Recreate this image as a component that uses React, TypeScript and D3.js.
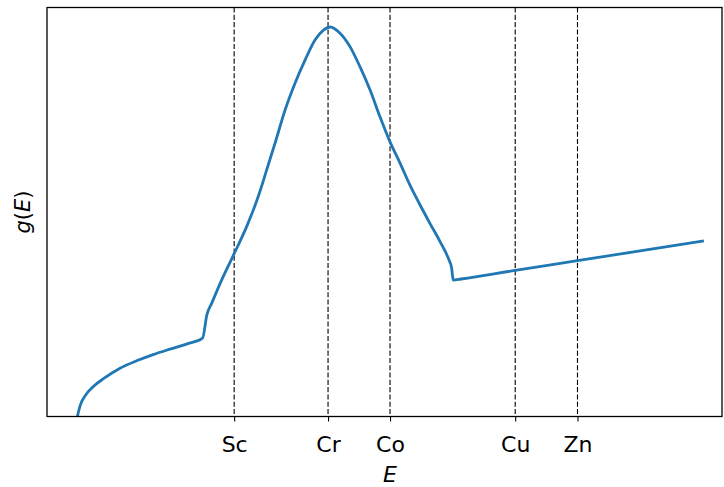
import { useEffect, useRef } from 'react';
import * as d3 from 'd3';

// energy axis positions (arbitrary units)
const energies = [
  0.99, 1.08, 1.24, 1.51, 1.84, 2.38, 2.92, 3.46, 4.01, 4.55,
  5.07, 5.21, 5.37, 5.69, 6.10, 6.51, 6.89, 7.16, 7.43, 7.76,
  8.08, 8.41, 8.74, 9.01, 9.23, 9.55, 9.88, 10.20, 10.53, 10.85,
  11.18, 11.51, 11.83, 12.16, 12.48, 12.81, 13.08, 13.19, 13.24, 13.5,
  15.26, 17.29, 21.41,
];
const density = [
  0, 2.8, 5.3, 7.7, 9.7, 12.4, 14.3, 15.9, 17.3, 18.6,
  20.1, 26.1, 29.1, 35.0, 41.8, 48.8, 56.6, 63.3, 70.1, 78.7,
  85.5, 91.5, 96.7, 99.2, 100, 98.4, 94.9, 89.8, 83.8, 77.0,
  70.5, 65.0, 59.4, 54.3, 49.6, 44.9, 40.6, 38.0, 35.0, 35.3,
  37.5, 40.0, 45.1,
];

const elements = ['Sc', 'Cr', 'Co', 'Cu', 'Zn'];
const elementEnergies = [6.10, 9.16, 11.18, 15.26, 17.29];

const width = 724;
const height = 487;
const margin = { top: 7.5, right: 2, bottom: 70.5, left: 47 };

export default function App() {
  const svgRef = useRef<SVGSVGElement>(null);

  useEffect(() => {
    if (!svgRef.current) return;
    const svg = d3.select(svgRef.current);
    svg.selectAll('*').remove();

    const innerWidth = width - margin.left - margin.right;
    const innerHeight = height - margin.top - margin.bottom;
    const font = 'DejaVu Sans';

    const x = d3.scaleLinear().domain([0, 22]).range([0, innerWidth]);
    const y = d3.scaleLinear().domain([0, 105]).range([innerHeight, 0]);

    const g = svg.append('g')
      .attr('transform', `translate(${margin.left},${margin.top})`);

    // dashed markers at each element
    g.selectAll('line.marker')
      .data(elementEnergies)
      .join('line')
      .attr('class', 'marker')
      .attr('x1', d => x(d))
      .attr('x2', d => x(d))
      .attr('y1', 0)
      .attr('y2', innerHeight)
      .attr('stroke', '#000')
      .attr('stroke-width', 1.1)
      .attr('stroke-dasharray', '5.1,2.2');

    const pts = energies.map((e, i) => [e, density[i]] as [number, number]);
    const line = d3.line<[number, number]>()
      .x(d => x(d[0]))
      .y(d => y(d[1]))
      .curve(d3.curveMonotoneX);

    g.append('path')
      .datum(pts)
      .attr('d', line)
      .attr('fill', 'none')
      .attr('stroke', '#1f77b4')
      .attr('stroke-width', 2.8)
      .attr('stroke-linejoin', 'round')
      .attr('stroke-linecap', 'butt');

    // frame
    g.append('rect')
      .attr('width', innerWidth)
      .attr('height', innerHeight)
      .attr('fill', 'none')
      .attr('stroke', '#000')
      .attr('stroke-width', 1.3);

    const xAxis = d3.axisBottom(x)
      .tickValues(elementEnergies)
      .tickFormat((_d, i) => elements[i])
      .tickSize(5)
      .tickPadding(15);

    const ax = g.append('g')
      .attr('transform', `translate(0,${innerHeight})`)
      .call(xAxis);
    ax.select('.domain').remove();
    ax.selectAll('line').attr('stroke', '#000').attr('stroke-width', 1.1);
    ax.selectAll('text')
      .attr('fill', '#000')
      .attr('font-family', font)
      .attr('font-size', '22px');

    svg.append('text')
      .attr('x', margin.left + x(11.18))
      .attr('y', 482)
      .attr('text-anchor', 'middle')
      .attr('font-family', font)
      .attr('font-size', '22px')
      .attr('font-style', 'italic')
      .text('E');

    const yl = svg.append('text')
      .attr('transform', `translate(30,${margin.top + innerHeight / 2}) rotate(-90)`)
      .attr('text-anchor', 'middle')
      .attr('font-family', font)
      .attr('font-size', '21px');
    yl.append('tspan').attr('font-style', 'italic').text('g');
    yl.append('tspan').text('(');
    yl.append('tspan').attr('font-style', 'italic').text('E');
    yl.append('tspan').text(')');
  }, []);

  return (
    <svg
      ref={svgRef}
      width={width}
      height={height}
      style={{ position: 'absolute', left: 0, top: 0, background: '#fff' }}
    />
  );
}
